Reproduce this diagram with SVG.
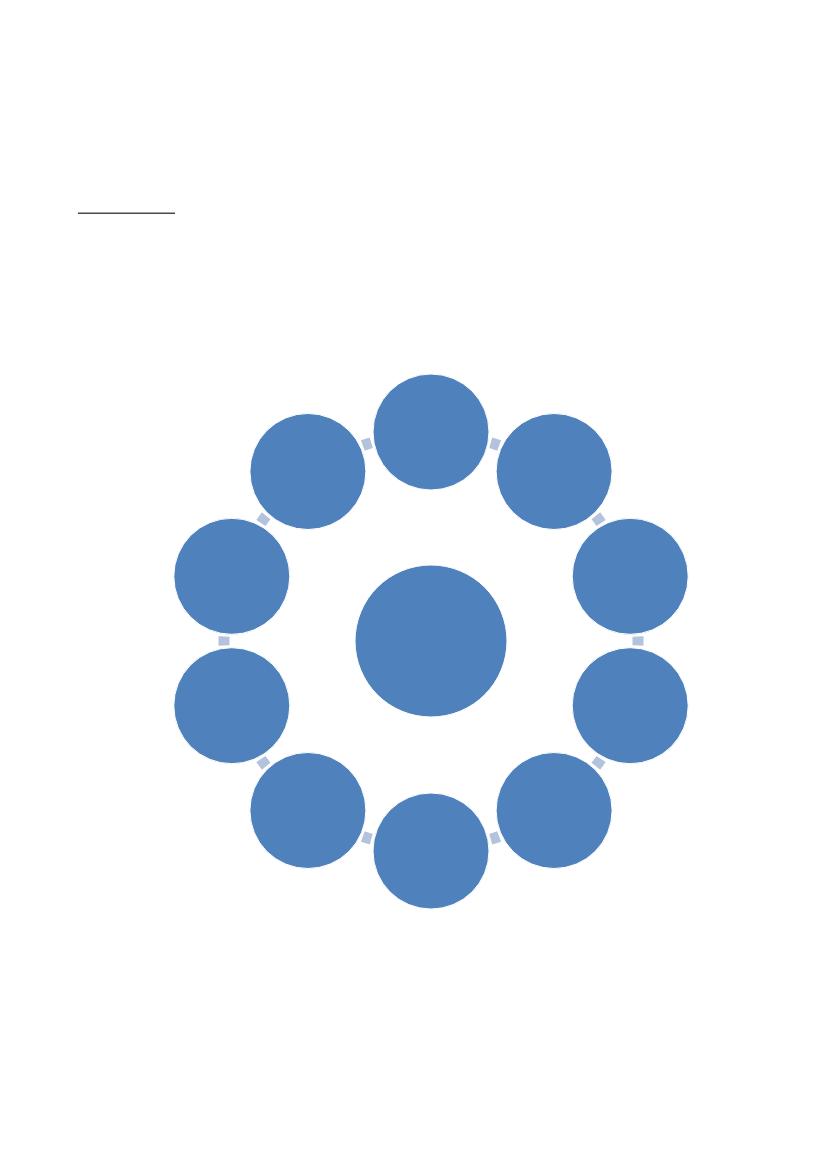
<svg xmlns="http://www.w3.org/2000/svg" xmlns:xlink="http://www.w3.org/1999/xlink" width="826" height="1169" viewBox="0 0 826 1169">
<style>
.node{fill:#4f81bd;stroke:#ffffff;stroke-width:1}
.conn{fill:#b3c3de;stroke:none}
.rule{stroke:#4a4a4a;stroke-width:1.4}
</style>
<defs>
<path id="seg" d="M -4.2 -201.5 L 4.2 -201.5 L 4.7 -212.5 L -4.7 -212.5 Z"/>
</defs>
<rect x="0" y="0" width="826" height="1169" fill="#ffffff"/>
<line class="rule" x1="78" y1="213.3" x2="175" y2="213.3"/>
<g id="connectors" transform="translate(431 641)">
<use xlink:href="#seg" class="conn" transform="rotate(18)"/>
<use xlink:href="#seg" class="conn" transform="rotate(54)"/>
<use xlink:href="#seg" class="conn" transform="rotate(90)"/>
<use xlink:href="#seg" class="conn" transform="rotate(126)"/>
<use xlink:href="#seg" class="conn" transform="rotate(162)"/>
<use xlink:href="#seg" class="conn" transform="rotate(198)"/>
<use xlink:href="#seg" class="conn" transform="rotate(234)"/>
<use xlink:href="#seg" class="conn" transform="rotate(270)"/>
<use xlink:href="#seg" class="conn" transform="rotate(306)"/>
<use xlink:href="#seg" class="conn" transform="rotate(342)"/>
</g>
<g id="center"><circle class="node" cx="431" cy="641" r="76"/></g>
<g id="n1"><circle class="node" cx="431" cy="432" r="58"/></g>
<g id="n2"><circle class="node" cx="554.1" cy="471.5" r="58"/></g>
<g id="n3"><circle class="node" cx="630.2" cy="576.3" r="58"/></g>
<g id="n4"><circle class="node" cx="630.2" cy="705.7" r="58"/></g>
<g id="n5"><circle class="node" cx="554.1" cy="810.5" r="58"/></g>
<g id="n6"><circle class="node" cx="431" cy="851" r="58"/></g>
<g id="n7"><circle class="node" cx="307.9" cy="810.5" r="58"/></g>
<g id="n8"><circle class="node" cx="231.8" cy="705.7" r="58"/></g>
<g id="n9"><circle class="node" cx="231.8" cy="576.3" r="58"/></g>
<g id="n10"><circle class="node" cx="307.9" cy="471.5" r="58"/></g>
</svg>
